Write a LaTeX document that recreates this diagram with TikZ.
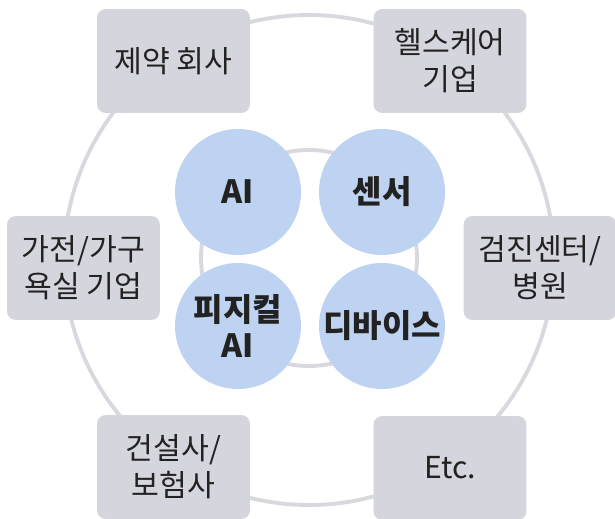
\documentclass[tikz,border=0pt]{standalone}
\usepackage{fontspec}
\setmainfont{Noto Sans CJK KR}
\usepackage{tikz}
\usetikzlibrary{positioning}
\definecolor{boxgray}{HTML}{D5D5DD}
\definecolor{ringgray}{HTML}{D8D8DF}
\definecolor{bubble}{HTML}{BED3F1}
\definecolor{ink}{HTML}{222222}
\begin{document}
\begin{tikzpicture}[x=0.02cm,y=-0.02cm,
  org/.style={fill=boxgray,rounded corners=5pt,align=center,text=ink,
    minimum width=3.06cm,minimum height=2.08cm,inner sep=0pt,
    font=\fontsize{17.2pt}{21pt}\selectfont},
  tech/.style={circle,fill=bubble,align=center,text=ink,minimum size=2.52cm,
    inner sep=0pt,font=\fontsize{18.2pt}{21pt}\selectfont\bfseries},
  ring/.style={draw=ringgray,line width=2.2pt}]
\useasboundingbox (0,0) rectangle (615,518);
% rings
\draw[ring] (309,260) circle[radius=245];
\draw[ring] (309,258) circle[radius=108];
% partners
\node[org] (pharma) at (173.5,61)  {제약 회사};
\node[org] (health) at (450,61)    {헬스케어\\기업};
\node[org] (home)   at (83.5,268)  {가전/가구\\욕실 기업};
\node[org] (clinic) at (540,268)   {검진센터/\\병원};
\node[org] (build)  at (173.5,467) {건설사/\\보험사};
\node[org] (etc)    at (450,468)   {Etc.};
% core technologies
\node[tech] (ai)     at (238,192) {AI};
\node[tech] (sensor) at (382,192) {센서};
\node[tech] (pai)    at (238,326) {피지컬\\AI};
\node[tech] (device) at (382,326) {디바이스};
\end{tikzpicture}
\end{document}
